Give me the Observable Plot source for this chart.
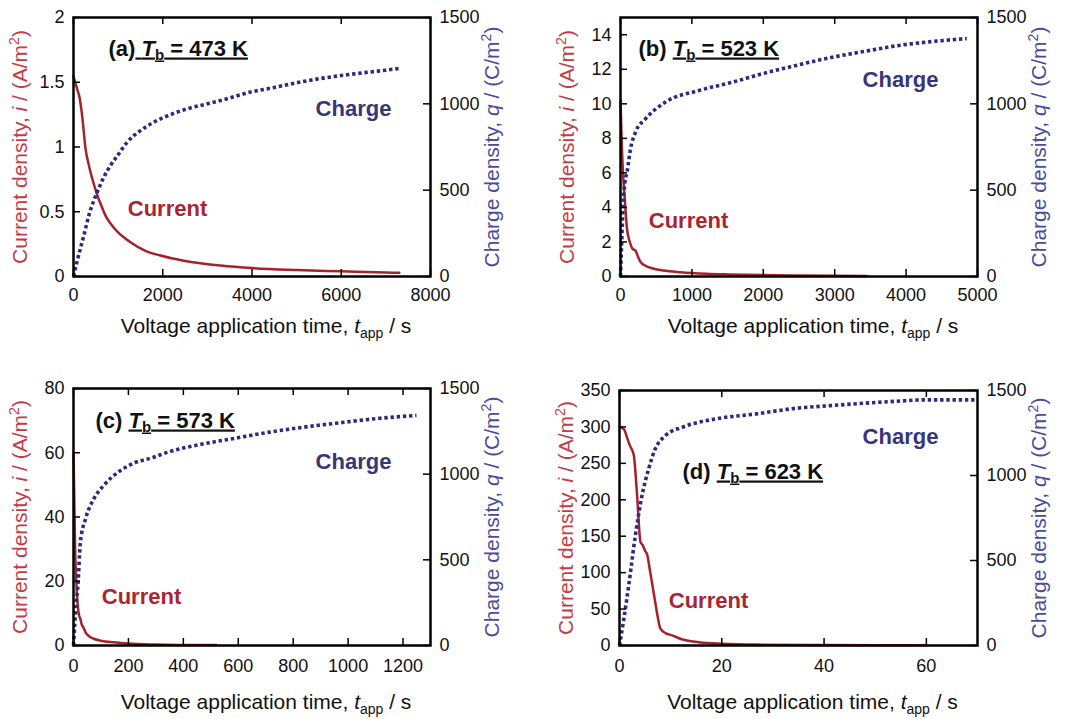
<!DOCTYPE html>
<html><head><meta charset="utf-8">
<script src="https://cdn.jsdelivr.net/npm/d3@7"></script>
<script src="https://cdn.jsdelivr.net/npm/@observablehq/plot@0.6"></script>
<style>
body{margin:0;background:#fff;}
#wrap{position:relative;width:1069px;height:719px;overflow:hidden;background:#fff;}
#wrap svg{position:absolute;}
</style></head><body><div id="wrap"></div>
<script>
// ---------- data ----------
const chargeTicks = [0, 500, 1000, 1500];

// (a) Tb = 473 K
const tCurA = [0, 20, 80, 142, 194, 269, 350, 450, 530, 620, 717, 850, 1000, 1277, 1600, 1950, 2500, 3294, 4000, 5000, 6000, 7000, 7300];
const iCurA = [1.55, 1.52, 1.45, 1.37, 1.24, 0.99, 0.85, 0.72, 0.63, 0.55, 0.47, 0.40, 0.34, 0.265, 0.20, 0.162, 0.12, 0.085, 0.065, 0.05, 0.04, 0.03, 0.028];
const tChgA = [0, 82, 157, 231, 343, 530, 679, 829, 1000, 1202, 1500, 1800, 2200, 2547, 3000, 3294, 3966, 4500, 5000, 5500, 6000, 6500, 7000, 7300];
const qChgA = [0, 90, 165, 237, 353, 488, 575, 643, 705, 778, 845, 894, 940, 971, 1000, 1019, 1068, 1095, 1122, 1145, 1164, 1180, 1195, 1205];
const xTicksA = [0, 2000, 4000, 6000, 8000];
const yTicksA = [0, 0.5, 1, 1.5, 2];

// (b) Tb = 523 K
const tCurB = [0, 15, 35, 60, 90, 130, 170, 210, 240, 280, 350, 467, 600, 840, 1200, 1500, 2000, 2500, 3000, 3450];
const iCurB = [10.2, 8.0, 6.0, 4.5, 2.8, 2.0, 1.6, 1.5, 1.2, 0.85, 0.62, 0.45, 0.35, 0.25, 0.16, 0.12, 0.08, 0.06, 0.045, 0.035];
const tChgB = [0, 15, 35, 60, 94, 140, 210, 350, 630, 1097, 1564, 1985, 2334, 2913, 3500, 3847, 4300, 4850];
const qChgB = [0, 180, 400, 540, 610, 739, 836, 913, 1010, 1077, 1125, 1174, 1210, 1265, 1310, 1335, 1358, 1378];
const xTicksB = [0, 1000, 2000, 3000, 4000, 5000];
const yTicksB = [0, 2, 4, 6, 8, 10, 12, 14];

// (c) Tb = 573 K
const tCurC = [0, 3, 6, 10, 15, 20, 25, 30, 35, 44, 55, 74, 100, 147, 200, 300, 400, 520];
const iCurC = [60, 45, 30, 20, 13, 9.5, 8.3, 6.5, 5.8, 4.1, 3.0, 2.1, 1.5, 1.0, 0.6, 0.3, 0.18, 0.12];
const tChgC = [0, 5, 10, 16, 25, 44, 74, 110, 171, 218, 292, 341, 474, 586, 709, 832, 954, 1077, 1249];
const qChgC = [0, 130, 250, 350, 603, 740, 856, 934, 1021, 1063, 1099, 1127, 1177, 1209, 1244, 1273, 1297, 1320, 1343];
const xTicksC = [0, 200, 400, 600, 800, 1000, 1200];
const yTicksC = [0, 20, 40, 60, 80];

// (d) Tb = 623 K
const tCurD = [0, 0.85, 1.5, 2.0, 2.8, 3.2, 3.5, 3.8, 4.1, 4.5, 5.0, 5.4, 6.0, 6.5, 7.0, 7.5, 8.0, 9.0, 10.3, 12, 15.5, 20, 28, 40, 50, 60];
const iCurD = [300, 297, 285, 275, 261, 230, 200, 165, 142, 138, 130, 125, 101, 80, 59, 38, 23, 17, 14, 9, 4.6, 2.5, 1.2, 0.6, 0.4, 0.3];
const tChgD = [0, 0.85, 1.8, 3.1, 4.4, 5.7, 7.0, 9.0, 12.3, 18.8, 26.6, 34.7, 41.2, 47.8, 54.3, 60.1, 65, 70];
const qChgD = [0, 157, 353, 647, 882, 1039, 1157, 1235, 1284, 1333, 1362, 1396, 1411, 1425, 1437, 1445, 1445, 1445];
const xTicksD = [0, 20, 40, 60];
const yTicksD = [0, 50, 100, 150, 200, 250, 300, 350];

const panelLetters = ["(a)", "(b)", "(c)", "(d)"];
const panelTemps = ["473 K", "523 K", "573 K", "623 K"];

// ---------- style ----------
const RED = "#a4222b";
const NAVY = "#2c2c7c";
const RED_TITLE = "#c43c45";
const NAVY_TITLE = "#4b4b9b";
const FONT = "'Liberation Sans', Arial, Helvetica, sans-serif";

const panels = [
  {tc: tCurA, ic: iCurA, tq: tChgA, qq: qChgA, xt: xTicksA, yt: yTicksA, xMax: 8000, yMax: 2,
   left: 0, top: 0, w: 534, h: 345, ml: 73, mr: 104, mt: 17, mb: 69, pad: 12, xtDy: 56,
   lab: [35, 38], chg: [280, 98], cur: [94, 198], under: "a"},
  {tc: tCurB, ic: iCurB, tq: tChgB, qq: qChgB, xt: xTicksB, yt: yTicksB, xMax: 5000, yMax: 15,
   left: 534, top: 0, w: 535, h: 345, ml: 86, mr: 92, mt: 17, mb: 69, pad: 12, xtDy: 56,
   lab: [18, 38], chg: [280, 69], cur: [68, 210]},
  {tc: tCurC, ic: iCurC, tq: tChgC, qq: qChgC, xt: xTicksC, yt: yTicksC, xMax: 1300, yMax: 80,
   left: 0, top: 345, w: 534, h: 374, ml: 73, mr: 104, mt: 43, mb: 74, pad: 14, xtDy: 63,
   lab: [22, 39], chg: [280, 80], cur: [68, 215]},
  {tc: tCurD, ic: iCurD, tq: tChgD, qq: qChgD, xt: xTicksD, yt: yTicksD, xMax: 70, yMax: 350,
   left: 534, top: 345, w: 535, h: 374, ml: 85, mr: 92, mt: 45, mb: 74, pad: 14, xtDy: 63,
   lab: [63, 88], chg: [281, 53], cur: [89, 217]}
];

const X_TITLE = "Voltage application time, tapp / s";
const YL_TITLE = "Current density, i / (A/m2)";
const YR_TITLE = "Charge density, q / (C/m2)";

function rich(svg, plain, html) {
  svg.querySelectorAll("text").forEach(el => {
    if (el.textContent === plain) el.innerHTML = html;
  });
}

const wrap = document.getElementById("wrap");
panels.forEach((p, idx) => {
  const fw = p.w - p.ml - p.mr, fh = p.h - p.mt - p.mb;
  const k = p.yMax / 1500;
  const cur = p.tc.map((t, i) => ({t, v: p.ic[i]}));
  const chg = p.tq.map((t, i) => ({t, q: p.qq[i]}));
  const labelText = panelLetters[idx] + " Tb = " + panelTemps[idx];
  const svg = Plot.plot({
    width: p.w, height: p.h,
    marginLeft: p.ml, marginRight: p.mr, marginTop: p.mt, marginBottom: p.mb,
    x: {domain: [0, p.xMax]},
    y: {domain: [0, p.yMax]},
    style: {fontFamily: FONT, fontSize: "18px", color: "#111", background: "transparent", overflow: "visible"},
    marks: [
      Plot.line(cur, {x: "t", y: "v", stroke: RED, strokeWidth: 2.5, curve: "monotone-x"}),
      Plot.line(chg, {x: "t", y: d => d.q * k, stroke: NAVY, strokeWidth: 3.6, strokeDasharray: "3.4,2.8",
                      strokeLinecap: "butt", curve: "monotone-x"}),
      Plot.tickY(p.yt, {y: d => d, insetRight: fw - 7, stroke: "#000", strokeWidth: 1.5}),
      Plot.tickY(chargeTicks, {y: d => d * k, insetLeft: fw - 7, stroke: "#000", strokeWidth: 1.5}),
      Plot.tickX(p.xt, {x: d => d, insetTop: fh - 7, stroke: "#000", strokeWidth: 1.5}),
      Plot.tickX(p.xt, {x: d => d, insetBottom: fh - 7, stroke: "#000", strokeWidth: 1.5}),
      Plot.frame({stroke: "#000", strokeWidth: 2.5}),
      Plot.axisX({ticks: p.xt, tickSize: 0, tickPadding: p.pad, label: null, tickFormat: d => String(d)}),
      Plot.axisY({ticks: p.yt, tickSize: 0, tickPadding: 9, label: null, tickFormat: d => String(d)}),
      Plot.axisY({anchor: "right", ticks: chargeTicks.map(q => q * k), tickSize: 0, tickPadding: 9, label: null,
                  tickFormat: d => String(Math.round(d / k))}),
      Plot.text([X_TITLE], {frameAnchor: "bottom", dy: p.xtDy, dx: 14, fontSize: 21, fill: "#111",
                            textAnchor: "middle", lineAnchor: "bottom"}),
      Plot.text([YL_TITLE], {frameAnchor: "left", dx: -53, rotate: -90, fontSize: 21, fill: RED_TITLE,
                             textAnchor: "middle", lineAnchor: "middle"}),
      Plot.text([YR_TITLE], {frameAnchor: "right", dx: 62, rotate: -90, fontSize: 21, fill: NAVY_TITLE,
                             textAnchor: "middle", lineAnchor: "middle"}),
      Plot.text([labelText], {frameAnchor: "top-left", dx: p.lab[0], dy: p.lab[1], textAnchor: "start", lineAnchor: "bottom",
                              fontSize: 22, fontWeight: "bold", fill: "#111"}),
      Plot.text(["Charge"], {frameAnchor: "top-left", dx: p.chg[0], dy: p.chg[1], textAnchor: "middle", lineAnchor: "bottom",
                             fontSize: 22, fontWeight: "bold", fill: "#363679"}),
      Plot.text(["Current"], {frameAnchor: "top-left", dx: p.cur[0], dy: p.cur[1], textAnchor: "middle", lineAnchor: "bottom",
                              fontSize: 22, fontWeight: "bold", fill: "#ab2430"})
    ]
  });
  svg.style.left = p.left + "px";
  svg.style.top = p.top + "px";
  rich(svg, X_TITLE, 'Voltage application time, <tspan font-style="italic">t</tspan><tspan font-size="14" dy="5">app</tspan><tspan dy="-5"> / s</tspan>');
  rich(svg, YL_TITLE, 'Current density, <tspan font-style="italic">i</tspan> / (A/m<tspan font-size="14" dy="-8">2</tspan><tspan dy="8">)</tspan>');
  rich(svg, YR_TITLE, 'Charge density, <tspan font-style="italic">q</tspan> / (C/m<tspan font-size="14" dy="-8">2</tspan><tspan dy="8">)</tspan>');
  const under = p.under === "a"
    ? panelLetters[idx] + '<tspan text-decoration="underline" style="text-decoration:underline"> <tspan font-style="italic">T</tspan><tspan font-size="15" dy="4">b</tspan><tspan dy="-4"> = ' + panelTemps[idx] + '</tspan></tspan>'
    : panelLetters[idx] + ' <tspan text-decoration="underline" style="text-decoration:underline"><tspan font-style="italic">T</tspan><tspan font-size="15" dy="4">b</tspan><tspan dy="-4"> = ' + panelTemps[idx] + '</tspan></tspan>';
  rich(svg, labelText, under);
  wrap.appendChild(svg);
});
</script>
</body></html>
